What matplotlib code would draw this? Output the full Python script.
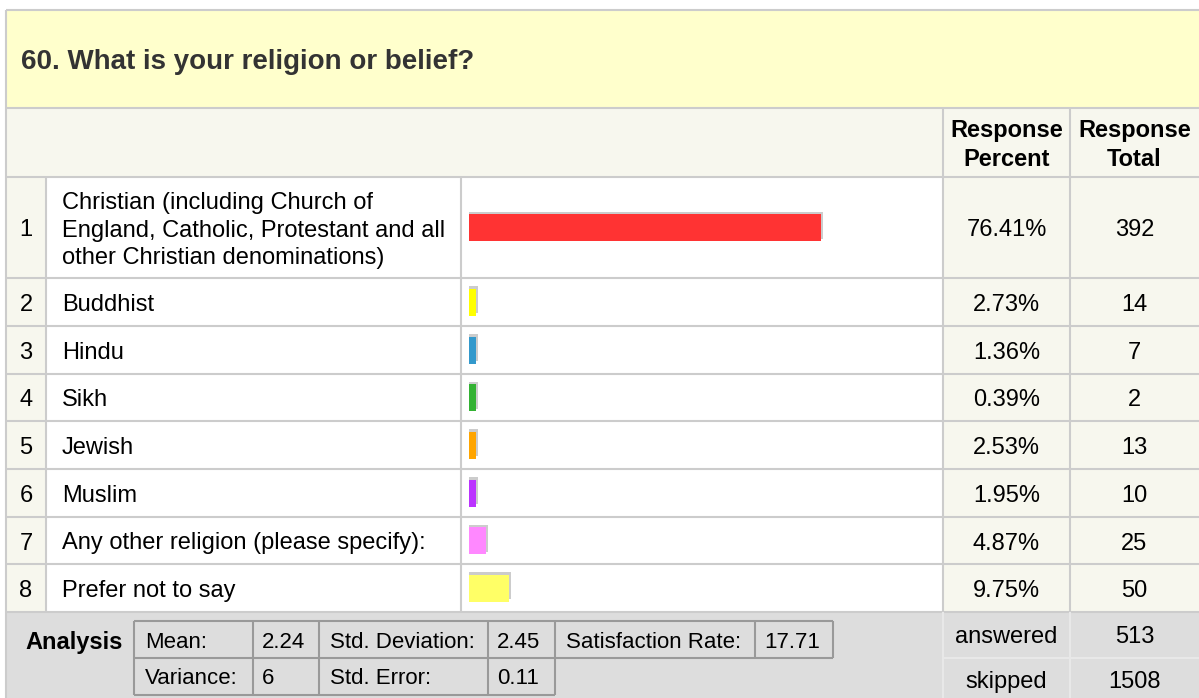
import numpy as np
import matplotlib.pyplot as plt
import matplotlib.patheffects as pe
from matplotlib.patches import Rectangle

plt.rcParams['font.family'] = ['Liberation Sans', 'DejaVu Sans']

# Survey data
question = "60. What is your religion or belief?"
labels = [
    "Christian (including Church of\nEngland, Catholic, Protestant and all\nother Christian denominations)",
    "Buddhist",
    "Hindu",
    "Sikh",
    "Jewish",
    "Muslim",
    "Any other religion (please specify):",
    "Prefer not to say",
]
percents = [76.41, 2.73, 1.36, 0.39, 2.53, 1.95, 4.87, 9.75]
totals = [392, 14, 7, 2, 13, 10, 25, 50]
bar_colors = ["#ff3333", "#ffff00", "#3399cc", "#33b233",
              "#ffa500", "#bb33ff", "#ff88ff", "#ffff66"]

stat_row1 = [("Mean:", "2.24"), ("Std. Deviation:", "2.45"), ("Satisfaction Rate:", "17.71")]
stat_row2 = [("Variance:", "6"), ("Std. Error:", "0.11")]
answered = 513
skipped = 1508

# layout in pixels
W, H = 1199, 698
L, R, TOP = 6, 1199, 10
y_hdr, y_col = 108, 177
row_edges = np.array([177, 278, 326, 374, 421, 469, 517, 564, 612])
x_num, x_lab, x_pct, x_tot = 46, 461, 943, 1070
cream = "#f7f7ee"
grid = "#cccccc"
lw = 1.5
fs = 17
ls = 1.32  # line spacing for wrapped text
line_px = 27.5

fig = plt.figure(figsize=(W / 100, H / 100), dpi=100)
ax = fig.add_axes([0, 0, 1, 1])
ax.set_xlim(0, W)
ax.set_ylim(H, 0)
ax.axis('off')


def box(x0, y0, x1, y1, fc):
    ax.add_patch(Rectangle((x0, y0), x1 - x0, y1 - y0, fc=fc, ec='none', zorder=0))


# backgrounds
box(L, TOP, R, y_hdr, "#ffffcc")
box(L, y_hdr, R, y_col, cream)
box(L, y_col, x_num, row_edges[-1], cream)
box(x_num, y_col, x_pct, row_edges[-1], "white")
box(x_pct, y_col, R, row_edges[-1], cream)
box(L, row_edges[-1], R, H, "#dddddd")

# grid lines
ax.hlines([TOP, y_hdr, y_col], L, R, colors=grid, lw=lw)
ax.hlines(row_edges[1:], L, R, colors=grid, lw=lw)
ax.vlines(L, TOP, H, colors=grid, lw=lw)
ax.vlines([x_num, x_lab], y_col, row_edges[-1], colors=grid, lw=lw)
ax.vlines([x_pct, x_tot], y_hdr, row_edges[-1], colors=grid, lw=lw)
ax.vlines([x_pct, x_tot], row_edges[-1], H, colors="#e8e8e8", lw=lw)
ax.hlines(658, x_pct, R, colors="#e8e8e8", lw=lw)

# header texts (va='baseline' anchors the last line of wrapped text)
ax.text(21, 69, question, fontsize=20, fontweight='bold', color="#333333", va='baseline')
ax.text((x_pct + x_tot) / 2, 166, "Response\nPercent", fontsize=fs, fontweight='bold',
        ha='center', va='baseline', linespacing=ls)
ax.text((x_tot + R) / 2, 166, "Response\nTotal", fontsize=fs, fontweight='bold',
        ha='center', va='baseline', linespacing=ls)

# rows
centers = (row_edges[:-1] + row_edges[1:]) / 2
for i, (lab, p, t) in enumerate(zip(labels, percents, totals)):
    base = centers[i] + 9
    n_lines = lab.count("\n") + 1
    ax.text(26, base, str(i + 1), fontsize=fs, ha='center', va='baseline')
    ax.text(62, base + (n_lines - 1) * line_px / 2, lab, fontsize=fs, va='baseline',
            linespacing=ls)
    ax.text((x_pct + x_tot) / 2, base, f"{p:.2f}%", fontsize=fs, ha='center', va='baseline')
    ax.text((x_tot + R) / 2, base, str(t), fontsize=fs, ha='center', va='baseline')

# bars
px_per_pct = 4.68
x0_pct = 1.2
bax = fig.add_axes([469 / W, 1 - row_edges[-1] / H, (940 - 469) / W,
                    (row_edges[-1] - row_edges[0]) / H])
bax.set_xlim(x0_pct, x0_pct + (940 - 469) / px_per_pct)
bax.set_ylim(row_edges[-1], row_edges[0])
bax.axis('off')
shadow = [pe.SimplePatchShadow(offset=(1.5, 1.5), shadow_rgbFace=grid, alpha=1.0), pe.Normal()]
bax.barh(centers, np.maximum(percents, x0_pct + 7 / px_per_pct), height=27,
         color=bar_colors, path_effects=shadow)

# analysis block
afs = 16
ax.text(74, 649, "Analysis", fontsize=fs, fontweight='bold', ha='center', va='baseline')
cols = [134, 253, 319, 488, 555, 755, 833]
y_a, y_m, y_b = 621, 658, 695
in_c = "#999999"
ax.hlines(y_a, cols[0], cols[-1], colors=in_c, lw=lw)
ax.hlines(y_m, cols[0], cols[-1], colors=in_c, lw=lw)
ax.hlines(y_b, cols[0], cols[4], colors=in_c, lw=lw)
ax.vlines(cols[:5], y_a, y_b, colors=in_c, lw=lw)
ax.vlines(cols[5:], y_a, y_m, colors=in_c, lw=lw)
for k, (name, val) in enumerate(stat_row1):
    ax.text(cols[2 * k] + 11, 648, name, fontsize=afs, va='baseline')
    ax.text(cols[2 * k + 1] + 9, 648, val, fontsize=afs, va='baseline')
for k, (name, val) in enumerate(stat_row2):
    ax.text(cols[2 * k] + 11, 684, name, fontsize=afs, va='baseline')
    ax.text(cols[2 * k + 1] + 9, 684, val, fontsize=afs, va='baseline')

ax.text((x_pct + x_tot) / 2, 643, "answered", fontsize=fs, ha='center', va='baseline')
ax.text((x_tot + R) / 2, 643, str(answered), fontsize=fs, ha='center', va='baseline')
ax.text((x_pct + x_tot) / 2, 688, "skipped", fontsize=fs, ha='center', va='baseline')
ax.text((x_tot + R) / 2, 688, str(skipped), fontsize=fs, ha='center', va='baseline')

fig.savefig("out.png", dpi=100)
